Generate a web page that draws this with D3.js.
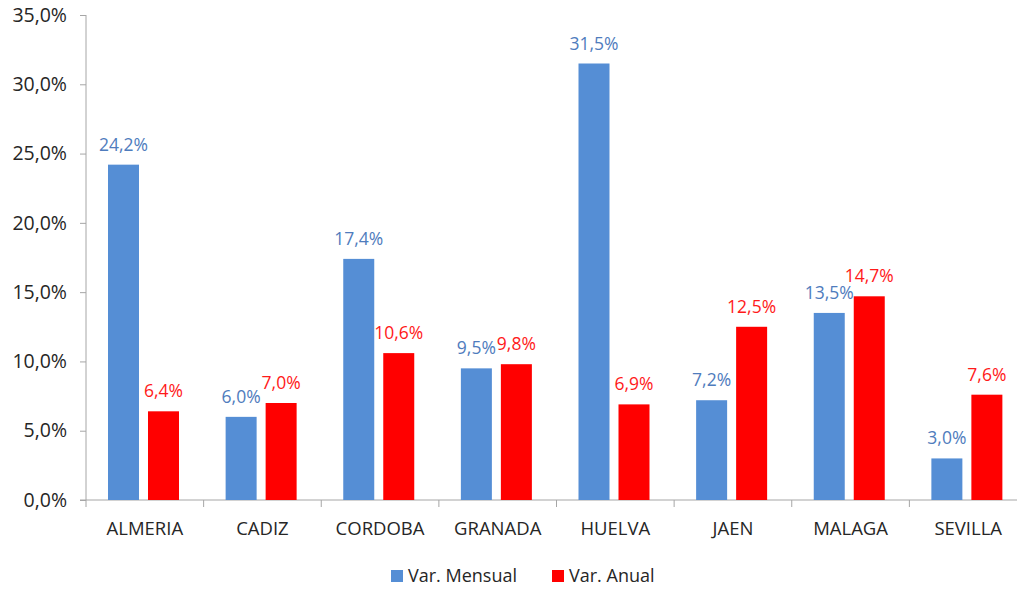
<!DOCTYPE html>
<html>
<head>
<meta charset="utf-8">
<script src="https://cdn.jsdelivr.net/npm/d3@7"></script>
<style>
  body { margin: 0; background: #fff; }
  svg { display: block; font-family: "Open Sans", "Noto Sans", sans-serif; }
</style>
</head>
<body>
<div id="chart"></div>
<script>
var width = 1017
var height = 589

var provincias = ["ALMERIA", "CADIZ", "CORDOBA", "GRANADA", "HUELVA", "JAEN", "MALAGA", "SEVILLA"]
var series = ["Var. Mensual", "Var. Anual"]
var mensual = [24.2, 6.0, 17.4, 9.5, 31.5, 7.2, 13.5, 3.0]
var anual = [6.4, 7.0, 10.6, 9.8, 6.9, 12.5, 14.7, 7.6]
var yTicks = [0, 5, 10, 15, 20, 25, 30, 35]

var barColor = ["#558ed5", "#ff0000"]
var labelColor = ["#4f7cbd", "#ff1a1a"]
var font = '"Open Sans", "Noto Sans", sans-serif'

var fmt = function(v) { return v.toFixed(1).replace(".", ",") + "%" }

var data = provincias.map(function(p, i) {
  return { name: p, values: [mensual[i], anual[i]] }
})

var svg = d3.select("#chart").append("svg")
  .attr("width", width)
  .attr("height", height)

var x0 = d3.scaleBand()
  .domain(provincias)
  .range([86, 1027])

var x1 = d3.scaleBand()
  .domain([0, 1])
  .range([22, 93])
  .paddingInner(0.225)

var y = d3.scaleLinear()
  .domain([0, 35])
  .range([500, 15])

// y axis
var yAxis = svg.append("g")
  .attr("transform", "translate(86,0)")
  .call(d3.axisLeft(y).tickValues(yTicks).tickSize(6).tickPadding(13)
    .tickFormat(fmt))
  .attr("font-family", font)
yAxis.select(".domain").attr("stroke", "#a6a6a6").attr("d", "M0,15V500")
yAxis.selectAll(".tick line").attr("stroke", "#a6a6a6")
yAxis.selectAll(".tick text")
  .attr("fill", "#262626")
  .style("font-size", "19.5px")

// x axis
var xAxis = svg.append("g")
  .attr("transform", "translate(0,500)")
  .call(d3.axisBottom(x0).tickSize(0).tickPadding(22))
  .attr("font-family", font)
xAxis.select(".domain").attr("stroke", "#a6a6a6").attr("d", "M80,0H1017")
xAxis.selectAll(".tick text")
  .attr("fill", "#262626")
  .style("font-size", "18.5px")

// category separators
svg.append("g").selectAll("line")
  .data(provincias)
  .enter().append("line")
  .attr("x1", function(d) { return x0(d) })
  .attr("x2", function(d) { return x0(d) })
  .attr("y1", 500)
  .attr("y2", 507)
  .attr("stroke", "#a6a6a6")

var groups = svg.append("g").selectAll("g")
  .data(data)
  .enter().append("g")
  .attr("transform", function(d) { return "translate(" + x0(d.name) + ",0)" })

groups.selectAll("rect")
  .data(function(d) { return d.values })
  .enter().append("rect")
  .attr("x", function(d, i) { return x1(i) })
  .attr("width", x1.bandwidth())
  .attr("y", function(d) { return y(d) })
  .attr("height", function(d) { return 500 - y(d) })
  .attr("fill", function(d, i) { return barColor[i] })

groups.selectAll("text")
  .data(function(d) { return d.values })
  .enter().append("text")
  .attr("x", function(d, i) { return x1(i) + x1.bandwidth() / 2 })
  .attr("y", function(d) { return y(d) - 14 })
  .attr("text-anchor", "middle")
  .attr("fill", function(d, i) { return labelColor[i] })
  .style("font-size", "17.5px")
  .text(fmt)

// legend
var legendX = [391, 552]
var legend = svg.append("g").selectAll("g")
  .data(series)
  .enter().append("g")
  .attr("transform", function(d, i) { return "translate(" + legendX[i] + ",570)" })

legend.append("rect")
  .attr("width", 12)
  .attr("height", 12)
  .attr("fill", function(d, i) { return barColor[i] })

legend.append("text")
  .attr("x", 17)
  .attr("y", 12)
  .attr("fill", "#262626")
  .style("font-size", "18px")
  .text(function(d) { return d })
</script>
</body>
</html>
